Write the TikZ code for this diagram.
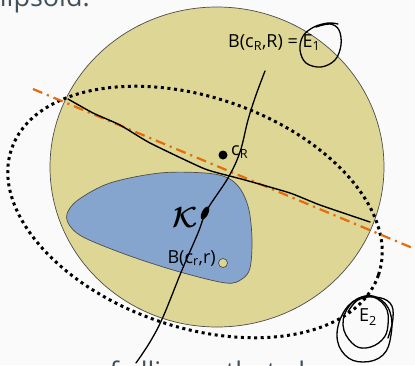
\documentclass[tikz,border=0pt]{standalone}
\usepackage{fontspec}
\setmainfont{Open Sans}
\usepackage{amsmath,bm}
\usetikzlibrary{positioning,calc}
\definecolor{ballfill}{RGB}{222,214,148}
\definecolor{kfill}{RGB}{133,165,207}
\definecolor{cutline}{RGB}{228,108,10}
\definecolor{slidetext}{RGB}{64,80,92}
\definecolor{slidebg}{RGB}{250,250,250}

\tikzset{
  outline/.style={draw=black!70,line width=0.7pt},
  ink/.style={draw=black,line width=1.3pt,line cap=round,line join=round},
  dotline/.style={draw=black,line width=3pt,dash pattern=on 3pt off 3.6pt},
  dashdot/.style={draw=cutline,line width=2.2pt,dash pattern=on 10pt off 5pt on 2.2pt off 5pt},
  lbl/.style={inner sep=0pt,font=\fontsize{18}{20}\selectfont},
  slide/.style={inner sep=0pt,text=slidetext,font=\fontsize{27}{30}\selectfont},
}

\begin{document}
\begin{tikzpicture}[x=1pt,y=-1pt]
  \path[use as bounding box,fill=slidebg] (0,0) rectangle (415,365);

  % slide text cut by the frame
  \begin{scope}
    \clip (0,0) rectangle (415,365);
    \node[slide,anchor=base east] (toptext) at (90,6) {ellipsoid.};
    \node[slide,anchor=base west] (bottext) at (93,381.5) {\llap{sequence }of ellipses that always contain};
  \end{scope}

  % the ball B(c_R,R) and the body K
  \draw[outline,fill=ballfill] (217,167) ellipse [x radius=167,y radius=160];
  \draw[outline,fill=kfill] plot[smooth cycle,tension=0.55] coordinates {
    (67,214) (78,200) (110,183) (160,173) (205,173) (228,178) (241,190)
    (249,210) (252,240) (250,268) (242,279) (226,283) (180,272) (130,256)
    (85,238) (70,226)};

  % next ellipse
  \draw[dotline,rotate around={-19:(195,212)}] (195,212) ellipse [x radius=194,y radius=115];

  % cutting plane
  \coordinate (cutA) at (33,89);
  \coordinate (cutB) at (415,249);
  \draw[dashdot] (cutA) -- (cutB);
  \draw[ink,line width=1.4pt] plot[smooth,tension=0.3] coordinates {
    (68,99) (93,113) (120,125) (150,143) (205,169) (245,180) (290,193)
    (320,205) (370,222)};

  % pen stroke through K
  \draw[ink] plot[smooth,tension=0.6] coordinates {
    (265,71) (256,95) (248,120) (240,152) (228,178) (207,210) (198,233)
    (182,270) (163,317) (150,342) (136,363)};
  \fill[rotate around={63:(205,213)}] (205,213) ellipse [x radius=7,y radius=3.2];

  % centres
  \node[circle,fill=black,inner sep=0pt,minimum size=9pt] (cR) at (223,155) {};
  \node[lbl,anchor=west] (cRlabel) at (231,152) {c\textsubscript{R}};
  \node[circle,outline,fill=ballfill,inner sep=0pt,minimum size=9pt] (cr) at (223,263) {};
  \node[lbl,anchor=east] (Bsmall) at (216,258) {B(c\textsubscript{r},r)};

  \node[scale=1.4] at (185,218) (Klabel) {\fontsize{20}{22}\selectfont$\bm{\mathcal{K}}$};

  % labels with the hand-drawn loops
  \node[lbl,anchor=west] (Bbig) at (228,43) {B(c\textsubscript{R},R) = E\textsubscript{1}};
  \draw[ink] plot[smooth,tension=0.6] coordinates {
    (316,27) (330,24) (339,30) (341,45) (335,60) (321,67) (306,63) (300,50)
    (303,36) (314,27) (328,23) (338,24)};

  \node[lbl] (Etwo) at (368,317) {E\textsubscript{2}};
  \draw[ink] plot[smooth cycle,tension=0.7] coordinates {
    (362,297) (345,310) (337,335) (345,355) (363,362) (383,355) (391,335)
    (390,312) (378,298)};
  \draw[ink] plot[smooth cycle,tension=0.7] coordinates {
    (368,296) (350,305) (343,325) (352,343) (366,348) (382,340) (388,325)
    (385,306)};
  \draw[ink] plot[smooth,tension=0.7] coordinates {
    (348,312) (358,300) (375,297) (390,303) (393,318) (388,338)};
\end{tikzpicture}
\end{document}
